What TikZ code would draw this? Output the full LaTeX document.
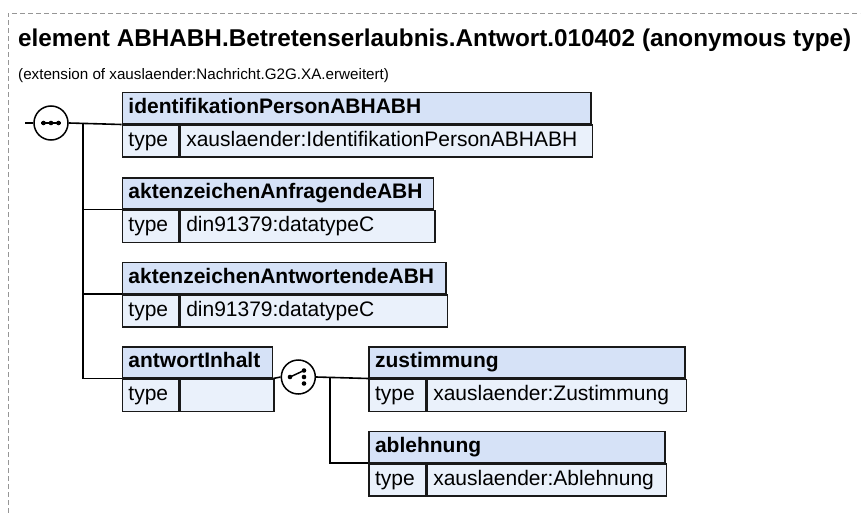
\documentclass[tikz,border=0pt]{standalone}
\usepackage{fontspec}
\setmainfont{Liberation Sans}
\definecolor{hdrblue}{RGB}{214,226,247}
\definecolor{rowblue}{RGB}{234,241,251}
\definecolor{framegray}{RGB}{150,150,150}
\tikzset{
  cell/.style={draw=black!90, line width=1.5pt, anchor=north west, inner xsep=6pt, inner ysep=0pt, align=left, text height=15pt, text depth=4pt, font=\fontsize{21}{24}\selectfont},
  hdr/.style={cell, fill=hdrblue, minimum height=31pt, text width=#1, font=\bfseries\fontsize{21}{24}\selectfont},
  row/.style={cell, fill=rowblue, minimum height=32pt, text width=#1},
  conn/.style={line width=1.6pt, black},
  compositor/.style={circle, draw, line width=1.5pt, fill=white, minimum size=34pt, inner sep=0pt},
  frameline/.style={framegray, dash pattern=on 5pt off 3pt, line width=0.9pt},
  dotmark/.style={fill=black},
}
\newcommand{\xsdelem}[9]{%
  \node[hdr=#4] (#1h) at (#2,#3) {#7};
  \node[row=#5] (#1t) at (#1h.south west) {type};
  \node[row=#6] (#1v) at (#1t.north east) {#8};
}
\begin{document}
\begin{tikzpicture}[x=1pt,y=-1pt]
\useasboundingbox (0,0) rectangle (866,513);
\draw[frameline] (8,513) -- (8,13) -- (860,13);
\node[anchor=base west, font=\bfseries\fontsize{24.3}{28}\selectfont, inner sep=0pt] (title) at (18,47) {element ABHABH.Betretenserlaubnis.Antwort.010402 (anonymous type)};
\node[anchor=base west, font=\fontsize{15.2}{18}\selectfont, inner sep=0pt] (sub) at (18,80) {(extension of xauslaender:Nachricht.G2G.XA.erweitert)};

\xsdelem{b1}{121.7}{92}{456.3pt}{44.3pt}{400pt}{identifikationPersonABHABH}{xauslaender:IdentifikationPersonABHABH}{}
\xsdelem{b2}{121.7}{177}{299pt}{44.3pt}{242.7pt}{aktenzeichenAnfragendeABH}{din91379:datatypeC}{}
\xsdelem{b3}{121.7}{261.5}{311.3pt}{44.3pt}{255pt}{aktenzeichenAntwortendeABH}{din91379:datatypeC}{}
\xsdelem{b4}{121.7}{346}{138pt}{44.3pt}{81.7pt}{antwortInhalt}{}{}
\xsdelem{zu}{368.3}{346}{303.7pt}{44.7pt}{247pt}{zustimmung}{xauslaender:Zustimmung}{}
\xsdelem{ab}{368.3}{430.5}{283.7pt}{44.7pt}{227pt}{ablehnung}{xauslaender:Ablehnung}{}

% sequence compositor
\coordinate (in) at (25,123);
\node[compositor] (seq) at (51,123) {};
\draw[conn] (in) -- (seq.west);
\draw[conn] (seq.east) -- (b1h.south west);
\draw[line width=1.5pt] (41,123) -- (61,123);
\fill[dotmark] (43.5,123) circle (2.3pt) (51,123) circle (2.3pt) (58.5,123) circle (2.3pt);
\coordinate (sbr) at (82.7,123);
\draw[conn] (sbr) |- (b2h.south west);
\draw[conn] (sbr) |- (b3h.south west);
\draw[conn] (sbr) |- (b4h.south west);

% choice compositor
\node[compositor] (cho) at (298.3,377) {};
\draw[conn] (b4h.south east) -- (cho.west);
\draw[conn] (cho.east) -- (zuh.south west);
\coordinate (cbr) at (330,377);
\draw[conn] (cbr) |- (abh.south west);
\draw[line width=1.5pt] (290,377) -- (304,370.5);
\fill[dotmark] (290,377) circle (2.3pt) (304,370.5) circle (2.3pt) (304,377) circle (2.3pt) (304,383.5) circle (2.3pt);
\end{tikzpicture}
\end{document}
